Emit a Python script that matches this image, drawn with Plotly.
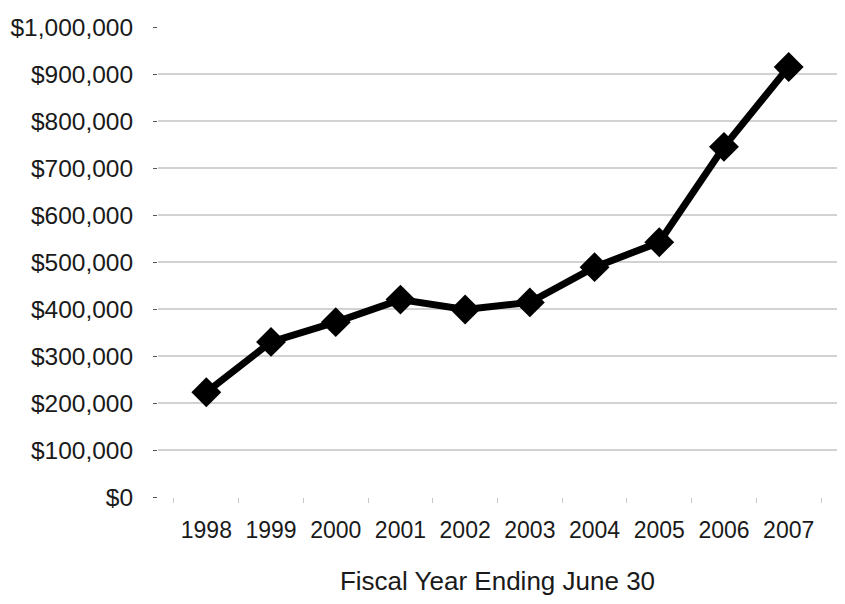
import plotly.graph_objects as go

years = ["1998", "1999", "2000", "2001", "2002", "2003", "2004", "2005", "2006", "2007"]
values = [223000, 330000, 372000, 420000, 399000, 414000, 489000, 542000, 745000, 915000]
y_ticks = [0, 100000, 200000, 300000, 400000, 500000, 600000, 700000, 800000, 900000, 1000000]
y_tick_text = ["$0", "$100,000", "$200,000", "$300,000", "$400,000", "$500,000",
               "$600,000", "$700,000", "$800,000", "$900,000", "$1,000,000"]
x_title = "Fiscal Year Ending June 30"

FONT = "Liberation Sans"

fig = go.Figure()
fig.add_trace(go.Scatter(
    x=years, y=values, mode="lines+markers",
    line=dict(color="#000000", width=7),
    marker=dict(symbol="diamond", size=23, color="#000000"),
    showlegend=False, hoverinfo="x+y",
))

# page body has an 8px default margin, so the figure is sized/offset to compensate
fig.update_layout(
    width=837, height=596,
    margin=dict(l=150, r=8, t=19, b=107),
    paper_bgcolor="white", plot_bgcolor="white",
    font=dict(family=FONT, size=23, color="#1a1a1a"),
    xaxis=dict(
        type="category", showgrid=False, showline=False, zeroline=False,
        automargin=False,
        ticks="outside", tickson="boundaries", ticklen=5, tickcolor="#c8c8c8",
        tickfont=dict(family=FONT, size=23, color="#1a1a1a"),
        ticklabelstandoff=17,
        title=dict(text=x_title, font=dict(family=FONT, size=26, color="#1a1a1a"), standoff=29),
    ),
    yaxis=dict(
        range=[0, 1000000], tickvals=y_ticks, ticktext=y_tick_text,
        automargin=False,
        showgrid=True, gridcolor="#d2d2d2", gridwidth=2,
        zeroline=False, showline=False,
        ticks="outside", ticklen=4, tickcolor="#555555",
        ticklabelstandoff=15,
        tickfont=dict(family=FONT, size=24.5, color="#1a1a1a"),
    ),
)

fig.write_html("out.html")
